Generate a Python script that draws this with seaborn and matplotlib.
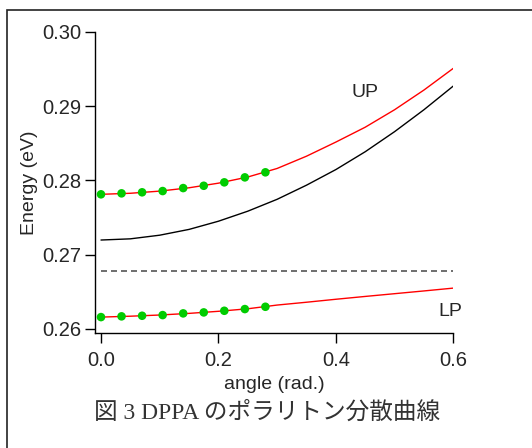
import matplotlib
matplotlib.use("Agg")
import matplotlib.pyplot as plt
import seaborn as sns
import pandas as pd
from matplotlib.patches import Rectangle

# ---- data ----
angle_pts = [0.0, 0.035, 0.07, 0.105, 0.14, 0.175, 0.21, 0.245, 0.28]
up_pts = [0.27812, 0.27825, 0.27839, 0.27856, 0.27896, 0.27927, 0.27973, 0.28040, 0.28108]
lp_pts = [0.26160, 0.26170, 0.26178, 0.26187, 0.26210, 0.26223, 0.26245, 0.26268, 0.26299]

angle_curve = [0.0, 0.05, 0.1, 0.15, 0.2, 0.25, 0.3, 0.35, 0.4, 0.45, 0.5, 0.55, 0.6]
up_curve = [0.27812, 0.27826, 0.27855, 0.27900, 0.27962, 0.28045, 0.28160,
            0.28325, 0.28515, 0.28715, 0.28950, 0.29215, 0.29507]
lp_curve = [0.26160, 0.26172, 0.26188, 0.26210, 0.26238, 0.26272, 0.26322,
            0.26360, 0.26400, 0.26438, 0.26475, 0.26512, 0.26550]
photon_curve = [0.27197, 0.27213, 0.27262, 0.27340, 0.27450, 0.27585, 0.27745,
                0.27935, 0.28145, 0.28385, 0.28655, 0.28950, 0.29269]
exciton_energy = 0.26783

x_ticks = [0.0, 0.2, 0.4, 0.6]
y_ticks = [0.26, 0.27, 0.28, 0.29, 0.30]
x_label = "angle (rad.)"
y_label = "Energy (eV)"
caption = "図 3 DPPA のポラリトン分散曲線"

# ---- style ----
sns.set_style("ticks")
plt.rcParams['font.family'] = ['Liberation Sans', 'DejaVu Sans']

fig = plt.figure(figsize=(5.32, 4.48), dpi=100)
ax = fig.add_axes([95/532, 1-333.3/448, (453.3-95)/532, (333.3-31.7)/448])

curves = pd.DataFrame({"angle": angle_curve, "UP": up_curve, "LP": lp_curve,
                       "photon": photon_curve})
pts = pd.DataFrame({"angle": angle_pts, "UP": up_pts, "LP": lp_pts})

sns.lineplot(data=curves, x="angle", y="photon", ax=ax, color="black", lw=1.0)
sns.lineplot(data=curves, x="angle", y="UP", ax=ax, color="#ff0000", lw=1.0)
sns.lineplot(data=curves, x="angle", y="LP", ax=ax, color="#ff0000", lw=1.0)
ax.plot([angle_curve[0], angle_curve[-1]], [exciton_energy, exciton_energy],
        color="#555555", lw=1.2, dashes=(3.6, 2.4))
sns.scatterplot(data=pts, x="angle", y="UP", ax=ax, color="#00cc00", s=38,
                edgecolor="none", zorder=5)
sns.scatterplot(data=pts, x="angle", y="LP", ax=ax, color="#00cc00", s=38,
                edgecolor="none", zorder=5)

ax.text(0.45, 0.2918, "UP", fontsize=14, ha="center", va="center")
ax.text(0.595, 0.2623, "LP", fontsize=14, ha="center", va="center")

ax.set_xlim(-0.0102, 0.6)
ax.set_ylim(0.25942, 0.30)
ax.set_xticks(x_ticks)
ax.set_xticklabels([f"{v:.1f}" for v in x_ticks])
ax.set_yticks(y_ticks)
ax.set_yticklabels([f"{v:.2f}" for v in y_ticks])
ax.tick_params(direction="out", length=7, width=1, labelsize=14.5, color="black")
ax.tick_params(axis="x", pad=6)
ax.tick_params(axis="y", pad=3)
for s in ["top", "right"]:
    ax.spines[s].set_visible(False)
for s in ["left", "bottom"]:
    ax.spines[s].set_linewidth(1.0)
    ax.spines[s].set_color("black")
ax.set_xlabel(x_label, fontsize=14, labelpad=4)
ax.set_ylabel(y_label, fontsize=14, labelpad=3)

fig.text(267.5/532, 1-413/448, caption, ha="center", va="center", fontsize=17,
         color="#333333", family=['Liberation Serif', 'Noto Sans CJK JP'])

fig.patches.append(Rectangle((7/532, -0.2), 1.5, 1.2 - 9.5/448,
                             transform=fig.transFigure, fill=False,
                             lw=1.2, edgecolor="#222222", clip_on=False))

fig.savefig("out.png", dpi=100)
